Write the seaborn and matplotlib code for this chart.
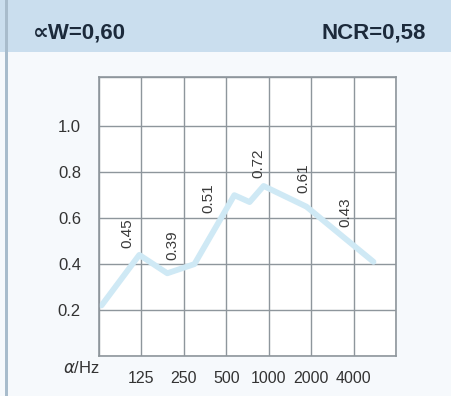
import matplotlib
matplotlib.use('Agg')
import matplotlib.pyplot as plt
import matplotlib.patches as mpatches
import seaborn as sns
import pandas as pd

# Dati: bande d'ottava e coefficienti di assorbimento
freq_labels = ['125', '250', '500', '1000', '2000', '4000']
alpha_values = [0.45, 0.39, 0.51, 0.72, 0.61, 0.43]

# Curva misurata (posizione in ottave rispetto a 125 Hz)
curve_octave = [-0.94, -0.05, 0.61, 1.25, 2.19, 2.55, 2.88, 3.89, 5.47]
curve_alpha = [0.22, 0.44, 0.36, 0.40, 0.70, 0.67, 0.74, 0.65, 0.41]

alpha_w = '0,60'
ncr = '0,58'

# posizione delle etichette ruotate
label_dx = [-0.33, -0.28, -0.42, -0.24, -0.19, -0.19]
label_y = [0.535, 0.483, 0.687, 0.839, 0.774, 0.626]

sns.set_theme(style='white')
plt.rcParams['font.family'] = ['Liberation Sans', 'DejaVu Sans']

fig = plt.figure(figsize=(4.52, 3.96), dpi=100)
fig.patch.set_facecolor('#f6f9fc')
fig.patches.append(mpatches.Rectangle((0, 0.868), 1, 0.132, transform=fig.transFigure,
                                      facecolor='#cadeee', edgecolor='none', zorder=0))
fig.patches.append(mpatches.Rectangle((0.011, 0), 0.007, 1, transform=fig.transFigure,
                                      facecolor='#a8bccc', edgecolor='none', zorder=0))

fig.text(0.073, 0.916, '\u221dW=' + alpha_w, fontsize=16, fontweight='bold',
         color='#1c2a3b', va='center', ha='left', family=['Liberation Sans', 'DejaVu Sans'])
fig.text(0.942, 0.916, 'NCR=' + ncr, fontsize=16, fontweight='bold',
         color='#1c2a3b', va='center', ha='right')

ax = fig.add_axes([0.219, 0.101, 0.657, 0.705])
ax.set_facecolor('white')

df = pd.DataFrame({'oct': curve_octave, 'alpha': curve_alpha})
sns.lineplot(data=df, x='oct', y='alpha', ax=ax, color='#cfe9f5', linewidth=4.2,
             sort=False, zorder=1)

for i, (v, dx, ly) in enumerate(zip(alpha_values, label_dx, label_y)):
    ax.text(i + dx, ly, f'{v:.2f}', rotation=90, ha='center', va='center',
            fontsize=11, color='#3a3a3a', zorder=3)

ax.set_xlim(-1, 6)
ax.set_ylim(0, 1.215)
ax.set_xticks([-1, 0, 1, 2, 3, 4, 5, 6])
ax.set_xticklabels([''] + freq_labels + [''])
ax.set_yticks([0.0, 0.2, 0.4, 0.6, 0.8, 1.0, 1.215])
ax.set_yticklabels(['', '0.2', '0.4', '0.6', '0.8', '1.0', ''])
ax.grid(True, color='#8e969c', linewidth=1.0)
ax.tick_params(axis='both', length=0, labelsize=12, colors='#333333')
ax.tick_params(axis='x', pad=11, labelsize=11.5)
ax.tick_params(axis='y', pad=13)
ax.set_xlabel('')
ax.set_ylabel('')
for s in ax.spines.values():
    s.set_color('#8e969c')
    s.set_linewidth(1.2)

fig.text(0.14, 0.07, r'$\alpha$/Hz', fontsize=12, color='#333333', va='center', ha='left')

fig.savefig('out.png', dpi=100)
